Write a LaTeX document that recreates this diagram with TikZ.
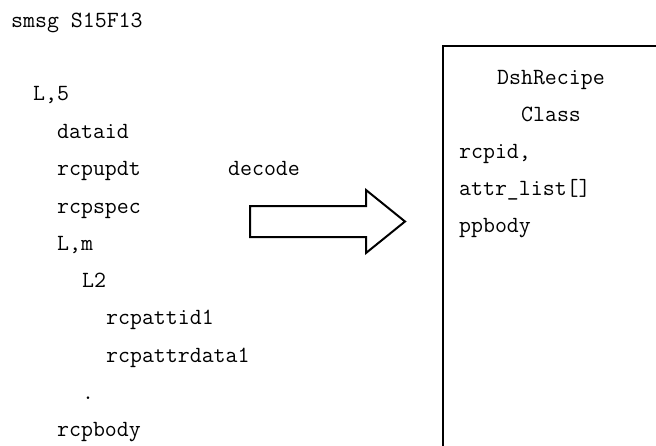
\documentclass[tikz,border=0pt]{standalone}
\usepackage{tikz}
\usetikzlibrary{positioning}

\tikzset{
  msg/.style={anchor=base west, inner sep=0pt, font=\fontsize{23.2}{27}\selectfont\ttfamily},
  clsbox/.style={draw, line width=2pt, minimum width=220pt, minimum height=414pt, inner sep=0pt},
}

\begin{document}
\begin{tikzpicture}[x=1pt,y=-1pt]
\useasboundingbox (0,0) rectangle (656,445);
\clip (0,0) rectangle (656,445);
%%%MESSAGE
\node[msg] (smsg) at (11,27) {smsg S15F13};
\node[msg] (l5) at (33,100) {L,5};
\node[msg] (dataid) at (57,138) {dataid};
\node[msg] (rcpupdt) at (57,175) {rcpupdt};
\node[msg] (rcpspec) at (57,213) {rcpspec};
\node[msg] (lm) at (57,250) {L,m};
\node[msg] (l2) at (82,287) {L2};
\node[msg] (attid) at (106,324) {rcpattid1};
\node[msg] (attdata) at (106,362) {rcpattrdata1};
\node[msg] (dot) at (82,399) {.};
\node[msg] (rcpbody) at (57,436) {rcpbody};
%%%DECODE ARROW
\node[msg] (decode) at (228,175) {decode};
\draw[line width=2pt, line join=miter] (250,206) -- (366,206) -- (366,190) -- (405,221.5)
  -- (366,253) -- (366,237) -- (250,237) -- cycle;
%%%CLASS
\node[clsbox] (cls) at (552.5,253) {};
\node[msg] (dsh) at (497,84) {DshRecipe};
\node[msg] (class) at (521,121) {Class};
\node[msg] (rcpid) at (459,158) {rcpid,};
\node[msg] (attrlist) at (459,195) {attr\_list[]};
\node[msg] (ppbody) at (459,232) {ppbody};
\end{tikzpicture}
\end{document}
